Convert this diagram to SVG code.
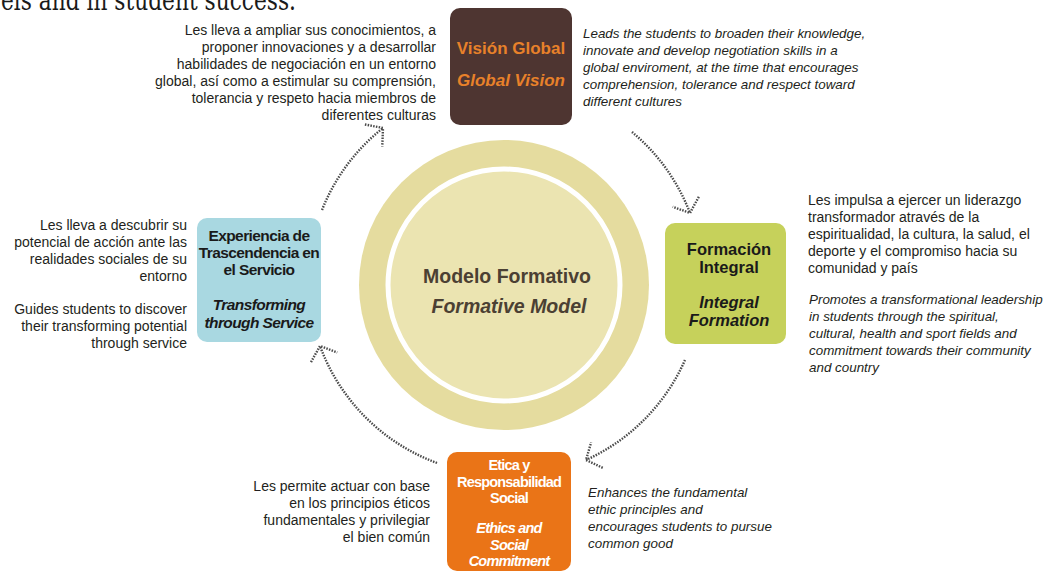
<svg xmlns="http://www.w3.org/2000/svg" width="1049" height="572" viewBox="0 0 1049 572">
  <style>
    .body { font-family: "Liberation Sans", Arial, sans-serif; font-size: 14px; fill: #231f20; }
    .it { font-style: italic; font-size: 13.4px; }
    .end { text-anchor: end; }
    .title { font-family: "Liberation Sans", Arial, sans-serif; font-weight: bold; text-anchor: middle; }
    .conn { fill: none; stroke: #4a4a4a; stroke-width: 2.4; stroke-dasharray: 1.5 1.3; }
  </style>
  <defs>
    <marker id="chevron" markerUnits="userSpaceOnUse" viewBox="-20 -20 40 40" markerWidth="40" markerHeight="40" refX="0" refY="0" orient="auto">
      <path d="M -12 -14 L 0 0 L -12 14" fill="none" stroke="#4a4a4a" stroke-width="2.4" stroke-dasharray="1.5 1.3"/>
    </marker>
  </defs>

  <rect width="1049" height="572" fill="#ffffff"/>

  <!-- cut-off line of running text above the figure -->
  <text x="1" y="10" font-family="'DejaVu Serif', 'Liberation Serif', serif" font-size="27" fill="#1a1a1a" textLength="295" lengthAdjust="spacingAndGlyphs">els and in student success.</text>

  <!-- central model -->
  <g id="modelo-formativo">
    <circle cx="504" cy="285" r="145" fill="#e5dc9f"/>
    <circle cx="504" cy="285" r="116" fill="#ebe4b1" stroke="#ffffff" stroke-width="5"/>
    <text class="title" x="507" y="283" font-size="19.5" fill="#4b4033">Modelo Formativo</text>
    <text class="title" x="509" y="313" font-size="19.5" font-style="italic" fill="#4b4033">Formative Model</text>
  </g>

  <!-- connectors -->
  <g id="connectors">
    <path class="conn" d="M 632 132 A 197 197 0 0 1 690 213" marker-end="url(#chevron)"/>
    <path class="conn" d="M 685 360 A 197 197 0 0 1 586 460" marker-end="url(#chevron)"/>
    <path class="conn" d="M 437 463 A 197 197 0 0 1 320 346" marker-end="url(#chevron)"/>
    <path class="conn" d="M 322 210 A 197 197 0 0 1 383 128" marker-end="url(#chevron)"/>
  </g>

  <!-- Global Vision -->
  <g id="vision-global">
    <rect x="450" y="8" width="122" height="117" rx="10" fill="#4e3531"/>
    <text class="title" x="511" y="54" font-size="17" fill="#e8812a">Visión Global</text>
    <text class="title" x="511" y="86" font-size="17" font-style="italic" fill="#e8812a">Global Vision</text>
    <g class="body end">
      <text x="436" y="35">Les lleva a ampliar sus conocimientos, a</text>
      <text x="436" y="52">proponer innovaciones y a desarrollar</text>
      <text x="436" y="69">habilidades de negociación en un entorno</text>
      <text x="436" y="86">global, así como a estimular su comprensión,</text>
      <text x="436" y="103">tolerancia y respeto hacia miembros de</text>
      <text x="436" y="120">diferentes culturas</text>
    </g>
    <g class="body it">
      <text x="583" y="38">Leads the students to broaden their knowledge,</text>
      <text x="583" y="55">innovate and develop negotiation skills in a</text>
      <text x="583" y="72">global enviroment, at the time that encourages</text>
      <text x="583" y="89">comprehension, tolerance and respect toward</text>
      <text x="583" y="106">different cultures</text>
    </g>
  </g>

  <!-- Integral Formation -->
  <g id="formacion-integral">
    <rect x="665" y="223" width="121" height="121" rx="10" fill="#c6d15b"/>
    <text class="title" x="729" y="255" font-size="16.5" fill="#1a1a1a">Formación</text>
    <text class="title" x="729" y="273" font-size="16.5" fill="#1a1a1a">Integral</text>
    <text class="title" x="729" y="308" font-size="16.5" font-style="italic" fill="#1a1a1a">Integral</text>
    <text class="title" x="729" y="326" font-size="16.5" font-style="italic" fill="#1a1a1a">Formation</text>
    <g class="body">
      <text x="808" y="205">Les impulsa a ejercer un liderazgo</text>
      <text x="808" y="222">transformador através de la</text>
      <text x="808" y="239">espiritualidad, la cultura, la salud, el</text>
      <text x="808" y="256">deporte y el compromiso hacia su</text>
      <text x="808" y="273">comunidad y país</text>
    </g>
    <g class="body it">
      <text x="809" y="304">Promotes a transformational leadership</text>
      <text x="809" y="321">in students through the spiritual,</text>
      <text x="809" y="338">cultural, health and sport fields and</text>
      <text x="809" y="355">commitment towards their community</text>
      <text x="809" y="372">and country</text>
    </g>
  </g>

  <!-- Ethics and Social Commitment -->
  <g id="etica-responsabilidad">
    <rect x="447" y="452" width="124" height="119" rx="10" fill="#ea7417"/>
    <g class="title" font-size="14.5" fill="#ffffff" letter-spacing="-0.8">
      <text x="509" y="470">Etica y</text>
      <text x="509" y="487">Responsabilidad</text>
      <text x="509" y="503">Social</text>
      <text x="509" y="533" font-style="italic">Ethics and</text>
      <text x="509" y="550" font-style="italic">Social</text>
      <text x="509" y="566" font-style="italic">Commitment</text>
    </g>
    <g class="body end">
      <text x="430" y="491">Les permite actuar con base</text>
      <text x="430" y="508">en los principios éticos</text>
      <text x="430" y="525">fundamentales y privilegiar</text>
      <text x="430" y="542">el bien común</text>
    </g>
    <g class="body it">
      <text x="588" y="497">Enhances the fundamental</text>
      <text x="588" y="514">ethic principles and</text>
      <text x="588" y="531">encourages students to pursue</text>
      <text x="588" y="548">common good</text>
    </g>
  </g>

  <!-- Transforming through Service -->
  <g id="experiencia-servicio">
    <rect x="197" y="218" width="124" height="124" rx="10" fill="#a9d8e1"/>
    <g class="title" font-size="15.5" fill="#1a1a1a" letter-spacing="-0.6">
      <text x="259" y="241">Experiencia de</text>
      <text x="259" y="258">Trascendencia en</text>
      <text x="259" y="275">el Servicio</text>
      <text x="259" y="310" font-style="italic">Transforming</text>
      <text x="259" y="328" font-style="italic">through Service</text>
    </g>
    <g class="body end">
      <text x="187" y="230">Les lleva a descubrir su</text>
      <text x="187" y="247">potencial de acción ante las</text>
      <text x="187" y="264">realidades sociales de su</text>
      <text x="187" y="281">entorno</text>
      <text x="187" y="314">Guides students to discover</text>
      <text x="187" y="331">their transforming potential</text>
      <text x="187" y="348">through service</text>
    </g>
  </g>
</svg>
